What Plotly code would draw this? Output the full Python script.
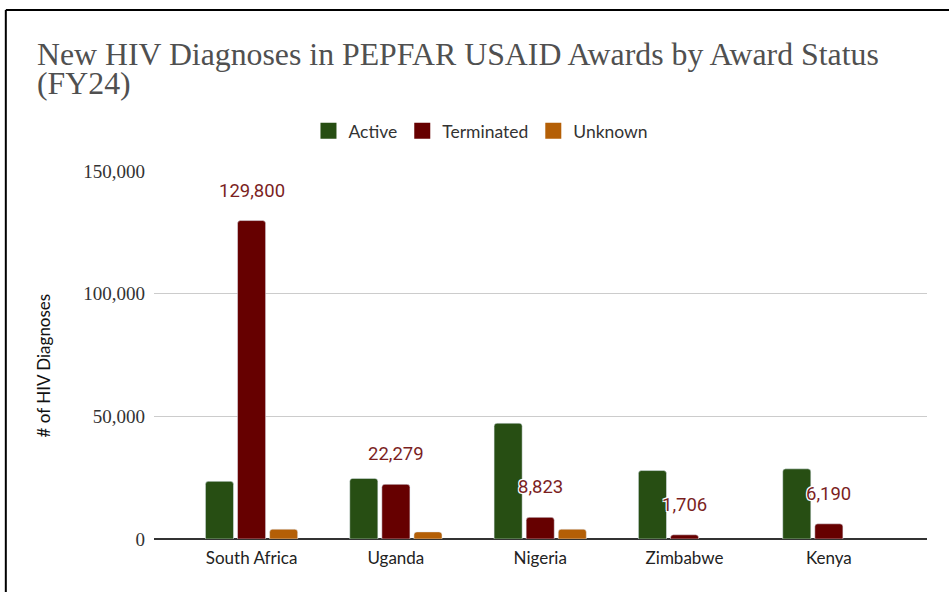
import plotly.graph_objects as go

countries = ["South Africa", "Uganda", "Nigeria", "Zimbabwe", "Kenya"]
active = [23500, 24700, 47200, 27900, 28600]
terminated = [129800, 22279, 8823, 1706, 6190]
unknown = [4000, 2900, 4000, None, None]
y_ticks = [0, 50000, 100000, 150000]
y_tick_labels = ["0", "50,000", "100,000", "150,000"]

title_line1 = "New HIV Diagnoses in PEPFAR USAID Awards by Award Status"
title_line2 = "(FY24)"
y_title = "# of HIV Diagnoses"

series = [
    ("Active", active, "#274e13"),
    ("Terminated", terminated, "#660000"),
    ("Unknown", unknown, "#b45f06"),
]

fig = go.Figure()
for name, vals, color in series:
    fig.add_trace(go.Bar(
        x=countries, y=vals, name=name, marker=dict(color=color, cornerradius=3),
        showlegend=False, hoverinfo="x+y+name",
    ))
for name, vals, color in series:
    fig.add_trace(go.Scatter(
        x=[None], y=[None], mode="markers", name=name,
        marker=dict(symbol="square", size=16, color=color), showlegend=True,
    ))

halo = "1px 1px 0 #fff, -1px -1px 0 #fff, 1px -1px 0 #fff, -1px 1px 0 #fff, 0 0 2px #fff"
annotations = []
for c, v in zip(countries, terminated):
    annotations.append(dict(
        x=c, y=v, xref="x", yref="y", text=f"{v:,}", showarrow=False,
        yanchor="middle", yshift=30,
        font=dict(family="Roboto", size=18.5, color="#7b1f1f", shadow=halo),
    ))

annotations.append(dict(
    x=-0.1545, y=1.316, xref="paper", yref="paper", text=title_line1, showarrow=False,
    xanchor="left", yanchor="middle",
    font=dict(family="Liberation Serif", size=31.8, color="#505050"),
))
annotations.append(dict(
    x=-0.1545, y=1.238, xref="paper", yref="paper", text=title_line2, showarrow=False,
    xanchor="left", yanchor="middle",
    font=dict(family="Liberation Serif", size=31.8, color="#505050"),
))
annotations.append(dict(
    x=-0.143, y=0.473, xref="paper", yref="paper", text=y_title, showarrow=False,
    textangle=-90, xanchor="center", yanchor="middle",
    font=dict(family="Lato", size=17, color="#111111"),
))

fig.update_layout(
    width=949, height=592,
    margin=dict(l=154, r=22, t=171, b=53, autoexpand=False),
    paper_bgcolor="white", plot_bgcolor="white",
    barmode="group", bargap=0.333, bargroupgap=0.125,
    showlegend=True,
    legend=dict(
        orientation="h", x=0.423, y=1.1087, xanchor="center", yanchor="middle",
        font=dict(family="Lato", size=17.5, color="#333333"),
        itemclick=False, itemdoubleclick=False,
    ),
    annotations=annotations,
    shapes=[
        dict(type="line", xref="paper", yref="paper", x0=-0.1917, x1=1.2, y0=1.4375, y1=1.4375,
             line=dict(color="black", width=2)),
        dict(type="line", xref="paper", yref="paper", x0=-0.1917, x1=-0.1917, y0=-0.3, y1=1.4375,
             line=dict(color="black", width=2)),
    ],
)
fig.update_xaxes(
    type="category", range=[-0.676, 4.68], showgrid=False, showline=False, ticks="",
    ticklabelstandoff=7,
    tickfont=dict(family="Lato", size=17, color="#222222"),
)
fig.update_yaxes(
    range=[0, 150000], tickvals=y_ticks, ticktext=y_tick_labels,
    showgrid=True, gridcolor="#cccccc", gridwidth=1,
    zeroline=True, zerolinecolor="#333333", zerolinewidth=1.5,
    showline=False, ticks="", ticklabelstandoff=8,
    tickfont=dict(family="Liberation Serif", size=19, color="#333333"),
)

fig.write_html(
    "out.html",
    config={"displayModeBar": False},
    post_script="document.body.style.margin = '0px';",
)
